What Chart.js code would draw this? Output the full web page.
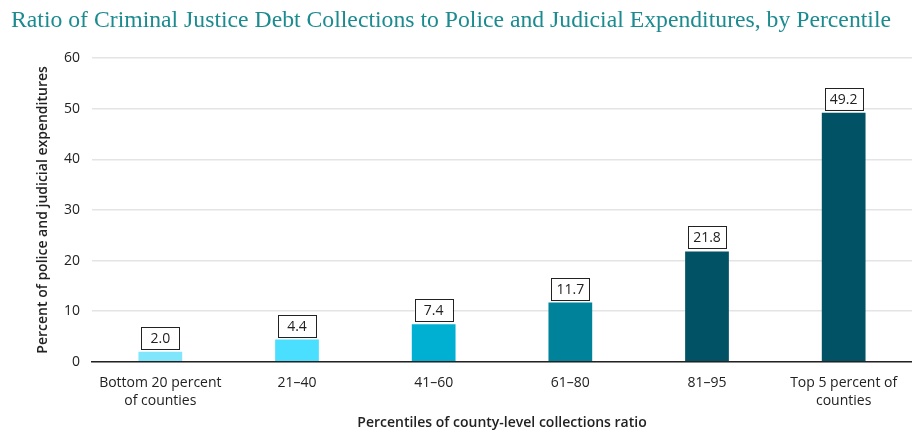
<!DOCTYPE html>
<html>
<head>
<meta charset="utf-8">
<script src="https://cdn.jsdelivr.net/npm/chart.js@4.4.1/dist/chart.umd.min.js"></script>
<style>
  html, body { margin: 0; padding: 0; background: #fff; }
  #wrap { width: 912px; height: 436px; position: relative; }
</style>
</head>
<body>
<div id="wrap"><canvas id="chart" width="912" height="436"></canvas></div>
<script>
const categories = [
    ['Bottom 20 percent', 'of counties'],
    '21\u201340',
    '41\u201360',
    '61\u201380',
    '81\u201395',
    ['Top 5 percent of', 'counties']
];
const ratioValues = [2.0, 4.4, 7.4, 11.7, 21.8, 49.2];
const barColors = ['#7fe6fb', '#4adfff', '#00b0d2', '#00829a', '#005264', '#005264'];
const yTicks = [0, 10, 20, 30, 40, 50, 60];

const chartTitle = 'Ratio of Criminal Justice Debt Collections to Police and Judicial Expenditures, by Percentile';

// title at the top, drawn narrow like the print version
const titlePlugin = {
    id: 'titleLine',
    afterDraw(chart) {
        const ctx = chart.ctx;
        ctx.save();
        ctx.font = '23px "Liberation Serif"';
        ctx.fillStyle = '#1b8b90';
        ctx.textBaseline = 'alphabetic';
        const w = ctx.measureText(chartTitle).width;
        const target = 880;
        ctx.translate(11, 27);
        ctx.scale(target / w, 1);
        ctx.fillText(chartTitle, 0, 0);
        ctx.restore();
    }
};

// boxed value labels above each bar
const valueBoxes = {
    id: 'valueBoxes',
    afterDatasetsDraw(chart) {
        const ctx = chart.ctx;
        const meta = chart.getDatasetMeta(0);
        ctx.save();
        ctx.font = '14px "Open Sans"';
        ctx.textAlign = 'center';
        ctx.textBaseline = 'middle';
        meta.data.forEach((bar, i) => {
            const txt = ratioValues[i].toFixed(1);
            const bw = 38, bh = 22;
            const cx = bar.x;
            const top = bar.y - 3 - bh;
            ctx.fillStyle = '#fff';
            ctx.fillRect(cx - bw / 2, top, bw, bh);
            ctx.strokeStyle = '#222';
            ctx.lineWidth = 1;
            ctx.strokeRect(Math.round(cx - bw / 2) + 0.5, Math.round(top) + 0.5, bw, bh);
            ctx.fillStyle = '#222';
            ctx.fillText(txt, cx, top + bh / 2 + 1);
        });
        ctx.restore();
    }
};

new Chart(document.getElementById('chart'), {
    type: 'bar',
    data: {
        labels: categories,
        datasets: [{
            data: ratioValues,
            backgroundColor: barColors,
            borderWidth: 0,
            barPercentage: 0.32,
            categoryPercentage: 1
        }]
    },
    plugins: [titlePlugin, valueBoxes],
    options: {
        responsive: false,
        animation: false,
        layout: { padding: { top: 58, right: 0, left: 35, bottom: 5 } },
        plugins: {
            legend: { display: false },
            tooltip: { enabled: false }
        },
        scales: {
            x: {
                grid: { display: false },
                border: { display: true, color: '#222', width: 1.5 },
                ticks: {
                    color: '#222',
                    font: { family: '"Open Sans"', size: 14, lineHeight: 1.3 },
                    padding: 4,
                    maxRotation: 0
                },
                title: {
                    display: true,
                    text: 'Percentiles of county-level collections ratio',
                    color: '#222',
                    font: { family: '"Open Sans"', size: 14, weight: '600' },
                    padding: { top: 0, bottom: 0 }
                }
            },
            y: {
                min: 0,
                max: 60,
                afterBuildTicks(scale) {
                    scale.ticks = yTicks.map(v => ({ value: v }));
                },
                afterFit(scale) { scale.width = 57; },
                grid: { color: '#e4e4e4', lineWidth: 1.5, drawTicks: false },
                border: { display: false },
                ticks: {
                    color: '#222',
                    font: { family: '"Open Sans"', size: 14 },
                    padding: 12
                },
                title: {
                    display: true,
                    text: 'Percent of police and judicial expenditures',
                    color: '#222',
                    font: { family: '"Open Sans"', size: 14, weight: '600' },
                    padding: { top: 0, bottom: 0 }
                }
            }
        }
    }
});
</script>
</body>
</html>
